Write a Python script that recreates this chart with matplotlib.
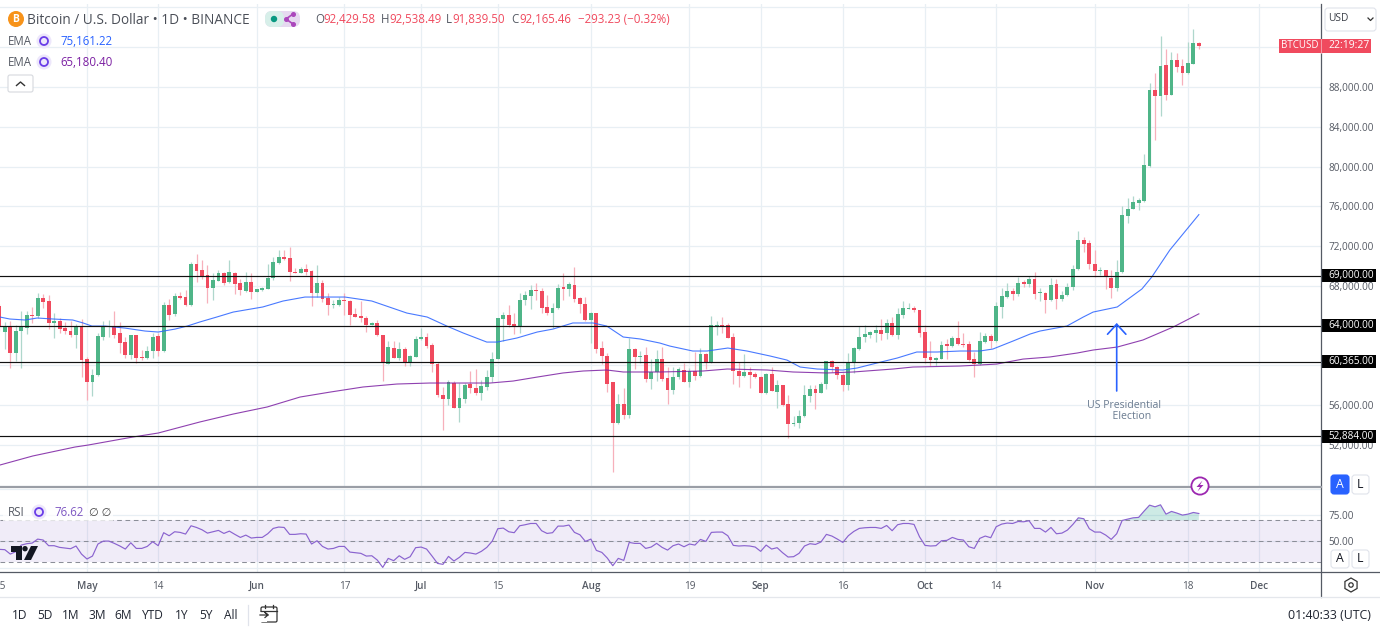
import numpy as np
import matplotlib
matplotlib.use("Agg")
import matplotlib.pyplot as plt
from matplotlib.patches import Rectangle, Circle, FancyBboxPatch, RegularPolygon, Polygon

plt.rcParams['font.family'] = ['Open Sans', 'DejaVu Sans']

# Daily candles, thousands of USD. Day 0 = 1 May 2024, first candle is day -16.
FIRST_DAY = -16
opens = [
 65.96,63.35,63.88,61.27,63.45,63.78,65.06,64.96,66.77,66.46,
 64.25,64.49,63.75,63.45,63.04,63.88,
 60.6,58.28,59.02,62.88,63.85,63.88,63.21,62.34,61.07,63.04,
 60.83,60.73,61.4,62.94,61.47,66.06,65.16,66.97,66.87,66.06,
 70.19,69.62,69.08,67.8,68.48,69.28,68.34,69.28,68.31,67.47,
 68.34,67.4,67.6,67.67,68.78,70.29,70.92,70.79,69.41,69.28,
 69.65,69.48,67.24,68.27,66.73,66.03,66.06,66.56,66.46,65.16,
 64.96,64.75,64.05,64.22,63.04,60.13,61.74,60.73,61.64,60.26,
 60.86,62.64,62.84,62.04,60.13,57.04,56.61,58.22,55.73,56.61,
 58.08,57.71,57.24,57.85,58.79,60.66,64.65,65.06,64.15,63.88,
 66.53,66.97,67.57,67.47,65.86,65.26,65.76,67.87,67.67,68.11,
 66.73,66.16,64.55,65.29,61.74,60.93,58.28,54.16,56.1,54.99,
 61.67,60.83,61.03,58.62,59.36,60.61,58.73,57.52,58.8,59.57,
 58.36,59.43,58.93,61.11,60.27,63.96,64.06,64.06,62.82,59.4,
 58.9,59.37,59.13,58.86,57.19,59.13,57.32,58.03,56.11,54.1,
 54.17,54.91,56.92,57.62,57.22,58.09,60.41,59.87,59.07,58.06,
 60.27,61.68,62.85,63.09,63.26,63.56,63.26,64.23,63.06,65.07,
 65.67,65.77,65.57,63.36,60.84,60.54,60.64,62.15,61.95,62.75,
 62.18,62.12,60.61,60.14,62.35,62.98,62.48,65.9,66.91,67.48,
 67.21,68.35,68.22,68.69,67.28,67.31,66.54,68.18,66.71,67.08,
 67.85,69.66,72.61,72.31,70.2,69.53,69.56,68.82,67.82,69.36,
 75.06,75.73,76.37,76.53,80.05,87.7,87.09,90.18,87.2,90.68,
 90.11,89.41,90.35,92.43]
highs = [
 66.2,64.32,64.45,64.05,65.49,65.49,65.83,67.24,67.13,67.07,
 65.22,64.72,64.39,64.45,64.15,64.62,
 60.86,59.59,63.21,64.49,64.55,65.49,64.32,62.88,63.04,63.04,
 61.53,61.94,63.21,63.21,66.36,66.63,67.3,67.4,67.57,70.35,
 71.19,70.59,70.09,69.25,69.58,69.41,70.59,69.38,68.64,69.35,
 69.25,67.67,67.91,70.19,70.92,71.59,71.59,71.93,69.75,69.92,
 70.19,69.58,70.09,68.58,67.3,66.56,66.83,67.24,66.56,65.73,
 66.46,64.96,64.39,64.55,63.04,62.44,62.44,62.37,61.8,61.03,
 62.94,63.71,63.21,62.21,60.36,57.85,58.52,58.42,58.18,58.18,
 59.42,59.62,58.52,59.52,61.37,64.79,65.39,66.06,65.22,67.3,
 67.47,68.07,68.31,67.74,67.07,66.23,68.17,69.31,68.41,69.85,
 66.9,66.83,65.39,65.29,62.44,61.2,58.35,57.1,57.75,62.71,
 61.77,61.43,61.87,60.63,61.53,61.82,59.8,59.8,59.8,60.27,
 59.7,61.38,61.71,61.21,65.0,64.46,64.9,64.3,63.22,60.37,
 61.14,59.87,59.37,58.93,59.27,59.8,58.53,58.03,57.02,54.94,
 55.51,58.03,58.03,58.03,58.36,60.44,60.54,59.94,59.2,61.21,
 61.82,63.96,64.06,63.49,64.06,64.63,64.63,64.9,65.74,66.48,
 66.24,66.01,65.57,64.03,62.45,60.81,62.49,62.62,62.95,64.46,
 63.22,62.45,61.38,63.32,63.22,63.12,66.4,67.82,68.32,67.82,
 68.92,68.59,69.02,69.36,67.75,67.38,68.75,68.65,67.51,68.32,
 70.09,73.52,72.88,72.61,71.6,69.86,69.59,69.59,70.6,76.03,
 76.8,77.04,76.8,81.23,88.37,89.44,93.13,91.79,91.49,91.39,
 90.82,92.56,93.83,92.54]
lows = [
 63.5,61.67,59.76,60.46,59.69,63.18,64.28,64.72,65.79,63.61,
 62.78,63.28,63.14,62.81,61.77,58.85,
 56.51,56.94,58.92,62.54,62.81,62.71,61.27,60.76,60.63,60.19,
 60.53,60.63,60.76,60.96,61.37,64.55,64.96,66.63,65.99,65.99,
 68.41,68.64,66.3,66.56,68.48,68.07,68.24,67.17,67.07,67.4,
 66.67,67.34,67.5,67.64,68.58,70.19,70.59,68.51,69.25,69.25,
 69.08,65.99,66.9,66.4,65.06,65.79,65.99,65.06,64.05,64.82,
 64.39,63.38,64.02,62.98,58.42,60.13,60.7,60.53,59.93,59.93,
 60.8,62.54,61.7,59.29,56.77,53.49,56.0,55.67,54.33,56.24,
 57.18,57.01,56.51,57.51,58.35,60.6,62.47,63.88,63.14,63.28,
 66.06,65.66,66.56,65.29,65.06,63.71,65.69,66.56,66.97,66.33,
 65.29,64.45,62.21,61.2,60.13,57.28,49.3,54.09,54.59,54.73,
 59.59,60.26,58.35,57.61,58.42,58.46,56.11,57.12,58.6,58.36,
 57.86,58.53,58.86,59.6,60.21,63.06,63.29,62.72,58.09,57.86,
 58.8,57.76,58.7,57.19,57.09,57.42,55.68,55.95,52.66,53.94,
 53.67,54.84,56.35,55.61,57.19,57.62,59.37,58.63,57.42,57.52,
 59.2,61.55,62.39,62.72,62.39,62.55,62.69,62.99,62.62,64.73,
 65.64,65.4,62.82,60.21,59.94,59.94,60.61,60.64,61.88,62.05,
 61.82,60.41,58.86,60.04,62.28,61.77,62.3,64.73,66.74,66.58,
 67.01,67.92,67.85,66.68,66.47,65.23,66.47,65.64,66.51,66.98,
 67.58,69.59,71.44,69.69,68.92,69.09,67.65,66.81,67.51,69.29,
 74.29,75.73,75.63,76.47,79.95,82.67,85.12,86.69,87.2,89.54,
 88.2,89.27,90.31,91.84]
closes = [
 63.82,63.82,61.27,63.48,63.88,65.06,64.96,66.77,66.36,64.25,
 64.49,63.68,63.45,63.04,63.88,60.56,
 58.35,59.05,62.91,63.85,63.9,63.04,62.27,61.07,63.04,60.76,
 60.76,61.43,62.84,61.47,66.06,65.09,66.97,66.77,66.06,70.15,
 69.48,68.91,67.8,68.54,69.28,68.31,69.35,68.17,67.57,68.34,
 67.4,67.67,67.77,68.78,70.39,70.92,70.69,69.35,69.31,69.65,
 69.41,67.27,68.27,66.7,66.03,66.2,66.6,66.46,65.06,64.82,
 64.72,64.05,64.22,63.04,60.26,61.84,60.73,61.64,60.26,60.93,
 62.68,62.84,61.94,60.09,56.97,56.61,58.28,55.73,56.67,58.01,
 57.71,57.24,57.91,58.85,60.63,64.72,65.06,64.05,63.92,66.56,
 67.03,67.57,67.47,65.79,65.26,65.79,67.81,67.67,68.17,66.67,
 66.2,64.55,65.29,61.67,60.9,58.15,54.16,56.1,54.99,61.67,
 60.83,60.93,58.62,59.36,60.63,58.66,57.52,58.86,59.6,58.36,
 59.43,58.93,61.11,60.27,64.03,64.06,63.96,62.79,59.4,58.93,
 59.37,59.03,58.8,57.26,59.13,57.42,58.03,56.05,54.1,54.24,
 54.91,57.02,57.62,57.22,58.13,60.44,59.84,59.03,58.06,60.27,
 61.75,62.82,63.19,63.36,63.56,63.19,64.23,63.06,65.17,65.74,
 65.77,65.54,63.29,60.78,60.54,60.74,62.05,61.95,62.75,62.15,
 62.05,60.54,60.14,62.42,62.95,62.45,65.97,66.98,67.48,67.21,
 68.32,68.22,68.69,67.21,67.35,66.54,68.08,66.71,67.08,67.88,
 69.69,72.61,72.24,70.23,69.46,69.59,68.86,67.82,69.39,75.12,
 75.73,76.43,76.6,80.12,87.7,87.13,90.11,87.2,90.68,90.05,
 89.41,90.45,92.39,92.17]

ema_fast_days = [-15.9,-14.1,-11.3,-9.1,-6.2,-2.6,-0.7,0.9,3.3,6.9,10.6,13,16.1,18.3,20.6,23.7,26.7,32.1,35.8,39.8,44.4,47.1,52,58.4,62.1,65.7,68.7,73,74.9,78.5,82.2,85.1,88.7,92.4,94.9,97.9,101,104.6,106.4,110.6,113.2,117,120.5,124.7,127.8,130.2,133.3,138,140.6,144.2,147.9,151.5,155.2,159.4,163,165.4,169.1,172.2,174,178.9,181.9,183.7,188.1,192.6,194.4,197.7,203]
ema_fast = [64.86,64.66,64.56,64.76,64.66,64.56,64.26,63.95,63.95,63.75,63.45,63.35,63.65,63.95,64.36,64.86,65.36,65.87,66.47,66.87,66.87,66.87,66.47,65.26,64.86,63.95,63.25,62.34,62.34,62.75,63.35,63.65,64.26,64.26,63.95,62.85,62.65,62.24,61.94,61.44,61.44,61.74,61.44,60.94,60.53,59.83,59.63,59.53,59.73,60.23,60.73,61.34,61.34,61.44,61.44,61.64,62.45,63.15,63.45,63.95,64.86,65.36,65.87,67.68,68.88,71.6,75.16]
ema_slow_days = [-15.9,-9.9,-2.2,0.2,8.4,13,20.6,26.7,32.9,38.9,44.4,50.4,56.6,62.6,68.7,73.6,77.8,82.2,86.9,90.6,94.9,97.9,104.6,112.5,116.9,124.2,128.9,135.1,139.9,147.2,150.8,159.4,163,166.1,170.9,175.8,180.8,183.7,188.1,192.8,198.3,203]
ema_slow = [49.97,50.88,51.78,51.98,52.79,53.19,54.3,55.1,55.81,56.81,57.31,57.82,58.12,58.22,58.22,58.22,58.42,58.82,59.23,59.43,59.53,59.33,59.33,59.43,59.63,59.53,59.33,59.23,59.33,59.63,59.83,59.93,60.03,60.13,60.63,60.84,61.24,61.54,61.84,62.55,63.85,65.18]

rsi = [
 42.4,42.1,37.9,40.2,46.5,47.8,48.4,52.2,51.3,45.9,
 45.9,44.3,43.7,43,45.6,37.9,33.2,36,47.5,50.3,
 50.3,48.1,45.6,42.7,48.7,43.3,43.3,45.2,49.7,45.9,
 58.3,55.4,59.2,58.6,57,64.9,63.3,61.1,57.9,59.2,
 60.5,57.6,59.8,56.7,53.8,56,53.2,53.8,53.8,57.3,
 62.4,63.7,63.3,56.7,56.7,57.3,57,47.5,50.6,45.2,
 42.7,43.3,45.2,45.2,39.8,39.2,38.6,36,36.3,32.2,
 25.2,33.8,31.6,36.3,32.9,35.4,44,44.6,42.7,36,
 29,28.1,35.7,31.3,34.8,
 39.5,38.9,37.9,40.5,44.3,50.3,62.1,62.7,59.2,58.3,
 64.9,65.9,67.1,67.1,60.2,57.6,58.3,64.6,64.6,65.6,
 58.6,56.3,50,52.2,41.4,39.5,34.1,26.8,33.8,31.9,
 49,48.1,48.1,43.3,44.6,48.1,44.3,41.7,45.9,47.5,
 44.9,47.5,46.5,51.9,50,58.6,58.9,58.9,55.4,46.2,
 45.6,45.9,45.6,44.6,40.5,46.5,42.7,44,39.2,35.1,
 35.4,38.6,45.6,47.8,47.1,49.4,56.7,55.1,52.2,49,
 55.4,59.5,62.4,63,63.3,63.3,62.4,65.2,60.2,65.9,
 67.1,67.1,66.2,
 54.4,46.2,45.6,45.9,50.6,51,53.8,51.9,51.3,44.9,
 43.3,52.9,55.1,53.5,64,66.5,67.5,67.1,69,68.7,
 69.7,62.4,62.4,58.9,63.3,57.3,57.9,60.8,66.2,72.5,
 71.6,62.1,58.9,58.9,56,51.9,57.3,70,71.3,72.5,
 72.9,78.9,84.6,83,84.9,76,78.6,77,75.1,76,77.6,76.62]

levels = [69000.00, 64000.00, 60365.00, 52884.00]
price_ticks = [52000, 56000, 60000, 64000, 68000, 72000, 76000, 80000, 84000, 88000, 92000, 96000]
price_labelled = [52000, 56000, 68000, 72000, 76000, 80000, 84000, 88000]
tick_days = [-16, 0, 13, 31, 47, 61, 75, 92, 110, 123, 138, 153, 166, 184, 201, 214]
tick_labels = ['15', 'May', '14', 'Jun', '17', 'Jul', '15', 'Aug', '19', 'Sep', '16', 'Oct', '14', 'Nov', '18', 'Dec']
month_labels = {'May', 'Jun', 'Jul', 'Aug', 'Sep', 'Oct', 'Nov', 'Dec'}
election_day = 188
election_from, election_to = 57420, 64260
ranges = ['1D', '5D', '1M', '3M', '6M', 'YTD', '1Y', '5Y', 'All']

W, H = 1380, 629
RED, GREEN = '#f04a5e', '#4fb588'
RED_W, GREEN_W = '#f7b0bb', '#afd7cc'
BLUE, PURPLE, RSI_C = '#2962ff', '#7b1fa2', '#7e57c2'
GRID = '#e8eff4'
TXT = '#555a64'
AXIS_FS = 7.2

fig = plt.figure(figsize=(W / 100, H / 100), dpi=100, facecolor='white')
PANEL_R = 1321
XMIN, XMAX = -15.88, 225.3


def box(left, top, right, bottom):
    return [left / W, 1 - bottom / H, (right - left) / W, (bottom - top) / H]


# ---------- price panel
ax = fig.add_axes(box(0, 4, PANEL_R, 487))
days = np.arange(FIRST_DAY, FIRST_DAY + len(closes))
o = np.array(opens) * 1000
h = np.array(highs) * 1000
l = np.array(lows) * 1000
c = np.array(closes) * 1000
up = c >= o
ax.vlines(days[up], l[up], h[up], color=GREEN_W, lw=0.9, zorder=2)
ax.vlines(days[~up], l[~up], h[~up], color=RED_W, lw=0.9, zorder=2)
bot = np.minimum(o, c)
hgt = np.maximum(np.abs(c - o), 90)
ax.bar(days[up], hgt[up], bottom=bot[up], width=0.7, color=GREEN, lw=0, zorder=3)
ax.bar(days[~up], hgt[~up], bottom=bot[~up], width=0.7, color=RED, lw=0, zorder=3)
ax.plot(ema_fast_days, np.array(ema_fast) * 1000, color=BLUE, lw=0.8, alpha=0.85, zorder=4)
ax.plot(ema_slow_days, np.array(ema_slow) * 1000, color=PURPLE, lw=0.8, alpha=0.85, zorder=4)
for v in levels:
    ax.axhline(v, color='#111111', lw=0.85, zorder=5)
ax.set_xlim(XMIN, XMAX)
ax.set_ylim(47760, 96350)
ax.set_xticks(tick_days[1:])
ax.set_xticklabels([])
ax.set_yticks(price_ticks)
ax.set_yticklabels([f'{t:,.2f}' if t in price_labelled else '' for t in price_ticks],
                   fontsize=AXIS_FS, color=TXT)
ax.yaxis.tick_right()
ax.tick_params(length=0, pad=5.6)
ax.grid(True, color=GRID, lw=0.9, zorder=0)
ax.set_axisbelow(True)
for s in ax.spines.values():
    s.set_visible(False)

trans = ax.get_yaxis_transform()
for v in levels:
    ax.add_patch(Rectangle((1.0007, v - 650), 0.0409, 1300, transform=trans, clip_on=False,
                           fc='black', ec='none', zorder=6))
    ax.text(1.0225, v - 10, f'{v:,.2f}', transform=trans, ha='center', va='center',
            color='white', fontsize=AXIS_FS, zorder=7, clip_on=False)

ax.annotate('', xy=(election_day, election_to), xytext=(election_day, election_from),
            arrowprops=dict(arrowstyle='->,head_length=7.2,head_width=6.6', mutation_scale=1,
                            color=BLUE, lw=1.2, shrinkA=0, shrinkB=0), zorder=6)
ax.text(election_day + 1.3, 55380, 'US Presidential\n      Election', ha='center', va='center',
        color='#6a7b90', fontsize=7.6, linespacing=1.05, zorder=6)

# ---------- RSI panel
ar = fig.add_axes(box(0, 489, PANEL_R, 572))
rd = np.arange(FIRST_DAY, FIRST_DAY + len(rsi))
rv = np.array(rsi)
ar.axhspan(30, 70, color=RSI_C, alpha=0.11, lw=0, zorder=1)
ar.fill_between(rd, 70, rv, where=rv >= 70, interpolate=True, color='#089981', alpha=0.2, lw=0, zorder=2)
ar.plot(rd, rv, color='#8a63cf', lw=0.85, zorder=4)
for v in (30, 50, 70):
    ar.axhline(v, color='#8b8e98', lw=0.75, ls=(0, (4.5, 3.5)), zorder=3)
ar.set_xlim(XMIN, XMAX)
ar.set_ylim(20.8, 99.8)
ar.set_xticks(tick_days[1:])
ar.set_xticklabels(tick_labels[1:])
for lab in ar.get_xticklabels():
    lab.set_fontsize(AXIS_FS)
    lab.set_color(TXT)
    if lab.get_text() in month_labels:
        lab.set_fontweight('semibold')
ar.set_yticks([25, 50, 75, 100])
ar.set_yticklabels(['', '50.00', '75.00', ''], fontsize=AXIS_FS, color=TXT)
ar.yaxis.tick_right()
ar.tick_params(axis='y', length=0, pad=5.6)
ar.tick_params(axis='x', length=0, pad=6.7)
ar.grid(True, color=GRID, lw=0.9, zorder=0)
ar.set_axisbelow(True)
for s in ar.spines.values():
    s.set_visible(False)
# first date label is cut by the left edge of the chart
ar.annotate(tick_labels[0], xy=(tick_days[0] + 0.12, 0), xycoords=('data', 'axes fraction'),
            xytext=(0, -6.7), textcoords='offset points', ha='center', va='top',
            fontsize=AXIS_FS, color=TXT, annotation_clip=False)

# ---------- interface chrome drawn in pixel space
ov = fig.add_axes([0, 0, 1, 1], zorder=20)
ov.set_xlim(0, W)
ov.set_ylim(H, 0)
ov.axis('off')


def T(x, y, s, size=8.6, color=TXT, ha='left', **kw):
    return ov.text(x, y, s, fontsize=size, color=color, ha=ha, va='center', **kw)


def RR(x0, y0, x1, y1, r=3, fc='white', ec='#e0e3eb', lw=0.8, z=2):
    ov.add_patch(FancyBboxPatch((x0 + r, y0 + r), x1 - x0 - 2 * r, y1 - y0 - 2 * r,
                                boxstyle=f'round,pad={r},rounding_size={r}', fc=fc, ec=ec, lw=lw, zorder=z))


def sync(x, y, col='#6a3de8'):
    ov.add_patch(Circle((x, y), 7.5, fc='#ede7fb', ec='none'))
    ov.add_patch(Circle((x, y), 4, fc='none', ec=col, lw=1.3, zorder=3))


# panel borders
ov.plot([PANEL_R, PANEL_R], [4, 597], color='#555a64', lw=0.9)
ov.plot([0, PANEL_R], [487, 487], color='#9a9ea6', lw=1.6)
ov.plot([0, W], [572, 572], color='#555a64', lw=0.9)
ov.plot([0, W], [597, 597], color='#e4e7ec', lw=0.9)

# header
ov.add_patch(Circle((16, 19), 8, fc='#f7931a', ec='none'))
T(16, 19, 'B', size=7.5, color='white', ha='center', fontweight='bold')
T(27, 20, 'Bitcoin / U.S. Dollar • 1D • BINANCE', size=9.8, color='#4a4e57')
RR(265, 11, 300, 27, r=7, fc='#e6d9f0', ec='none')
RR(265, 11, 284, 27, r=7, fc='#d7efe9', ec='none')
ov.add_patch(Circle((274, 19), 3.2, fc='#089981', ec='none', zorder=3))
ov.plot([293, 286, 293], [14, 19, 24], color='#ab47bc', lw=1.2, marker='o', ms=2.6, zorder=3)
for x, s, col in [(315, 'O', TXT), (323.5, '92,429.58', RED), (381, 'H', TXT), (389.5, '92,538.49', RED),
                  (446, 'L', TXT), (452.5, '91,839.50', RED), (511, 'C', TXT), (519.5, '92,165.46', RED),
                  (578, '−293.23 (−0.32%)', RED)]:
    T(x, 19.5, s, size=8.3, color=col)
T(8, 41.5, 'EMA', size=8.3)
sync(44, 41)
T(60, 41.5, '75,161.22', size=8.3, color=BLUE)
T(8, 62.5, 'EMA', size=8.3)
sync(44, 62)
T(60, 62.5, '65,180.40', size=8.3, color=PURPLE)
RR(8, 75, 33, 92, r=2, fc='white', ec='#d6d9de')
ov.plot([16.5, 20.5, 24.5], [85.5, 82, 85.5], color='#333333', lw=1, zorder=3)

# RSI legend
ov.add_patch(Rectangle((3, 503), 110, 18, fc='white', ec='none', alpha=0.75, zorder=1))
T(8, 513, 'RSI', size=8.3)
sync(39, 512)
T(54, 513, '76.62', size=8.3, color=RSI_C)
T(89, 513, '∅ ∅', size=8.0, color='#444444')

# TradingView mark
ov.add_patch(Polygon([(11, 546), (22, 546), (22, 560), (15.5, 560), (15.5, 551.5), (11, 551.5)], fc='#131722', ec='none'))
ov.add_patch(Circle((25, 548.7), 2.7, fc='#131722', ec='none'))
ov.add_patch(Polygon([(31, 546), (38, 546), (31, 560), (24, 560)], fc='#131722', ec='none'))

# right-hand controls
RR(1325, 8, 1376, 31, r=3)
T(1328, 18.5, 'USD', size=7.3, color='#3a3e47')
ov.plot([1368, 1370.5, 1373], [18, 20.5, 18], color='#333333', lw=0.9, zorder=3)
ov.add_patch(Rectangle((1279, 39), 92, 14, fc=RED, ec='none', zorder=3))
ov.plot([PANEL_R, PANEL_R], [39, 53], color='#f9aab4', lw=0.6, zorder=4)
T(1300, 46, 'BTCUSD', size=7.0, color='white', ha='center', zorder=5)
T(1349, 46, '22:19:27', size=7.5, color='white', ha='center', zorder=5)

ov.add_patch(Circle((1200, 486), 8.6, fc='white', ec='#9c27b0', lw=1.3, zorder=3))
ov.add_patch(Polygon([(1202.5, 480.5), (1196.5, 487), (1200, 487), (1197.5, 491.5), (1203.5, 485), (1200, 485)],
                     fc='#9c27b0', ec='none', zorder=4))
RR(1331, 475, 1349, 494, r=3, fc=BLUE, ec=BLUE)
T(1340, 484.5, 'A', size=8.8, color='white', ha='center', zorder=4)
RR(1352, 475, 1369, 494, r=3)
T(1360.5, 484.5, 'L', size=8.8, color='#131722', ha='center', zorder=4)
RR(1331, 550, 1349, 568, r=3)
T(1340, 559, 'A', size=8.8, color='#131722', ha='center', zorder=4)
RR(1352, 550, 1369, 568, r=3)
T(1360.5, 559, 'L', size=8.8, color='#131722', ha='center', zorder=4)
ov.add_patch(RegularPolygon((1351, 585), 6, radius=7, orientation=np.pi / 3, fc='none', ec='#333333', lw=0.9))
ov.add_patch(Circle((1351, 585), 2.2, fc='none', ec='#333333', lw=0.9))

# bottom toolbar
for x, s in zip([20, 45, 71, 97, 123, 153, 182, 206, 231], ranges):
    T(x, 615.5, s, size=8.6, color='#1f2430', ha='center')
ov.plot([248, 248], [605, 625], color='#e0e3eb', lw=0.9)
RR(261, 607, 277, 622, r=1.5, fc='none', ec='#333333', lw=0.9)
ov.add_patch(Rectangle((259, 612), 8, 10, fc='white', ec='none', zorder=3))
ov.plot([261, 277], [611, 611], color='#333333', lw=0.9, zorder=4)
ov.plot([265, 265], [605, 608], color='#333333', lw=0.9, zorder=4)
ov.plot([273, 273], [605, 608], color='#333333', lw=0.9, zorder=4)
ov.plot([260, 268, 265, 268, 265], [615, 615, 612.5, 615, 617.5], color='#333333', lw=0.9, zorder=4)
T(1371, 615.5, '01:40:33 (UTC)', size=8.9, color='#1f2430', ha='right')

fig.savefig('out.png', dpi=100, facecolor='white')
